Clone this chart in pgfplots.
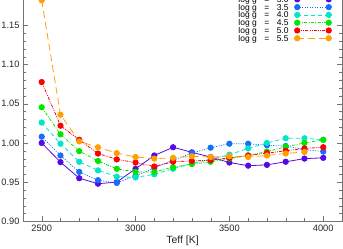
\documentclass[border=0pt]{standalone}
\usepackage{fontspec}
\setmainfont{Liberation Sans}
\usepackage{pgfplots}
\pgfplotsset{compat=1.18}
\definecolor{cA}{RGB}{85,10,225}
\definecolor{cB}{RGB}{20,110,255}
\definecolor{cC}{RGB}{0,230,200}
\definecolor{cD}{RGB}{0,230,0}
\definecolor{cE}{RGB}{255,0,0}
\definecolor{cF}{RGB}{255,160,0}
\newcommand{\logg}[1]{log g\hspace{7.5pt}=\hspace{7.5pt}#1}
\begin{document}
\begin{tikzpicture}
\begin{axis}[
  scale only axis, width=320pt, height=235.8pt,
  xmin=2400, xmax=4100, ymin=0.90, ymax=1.20,
  xtick={2500,3000,3500,4000}, minor x tick num=4,
  ytick={0.90,0.95,1.00,1.05,1.10,1.15}, minor y tick num=4,
  /pgf/number format/assume math mode=true,
  xticklabel style={/pgf/number format/1000 sep={}},
  yticklabel style={/pgf/number format/.cd, fixed, fixed zerofill, precision=2},
  tick label style={font=\fontsize{9.3}{10}\selectfont, black!85},
  axis line style={black!55}, tick style={black!55},
  major tick length=5pt, minor tick length=3pt,
  xlabel={Teff [K]}, xlabel style={font=\fontsize{10.5}{12}\selectfont, black!85, yshift=2pt},
  every axis plot/.append style={line width=0.8pt, mark=*, mark size=2.7pt, mark options={solid}},
  legend plot pos=right, legend cell align=right,
  legend image code/.code={\draw[mark repeat=1,mark phase=1] plot coordinates {(0pt,0pt) (31.6pt,0pt)};},
  legend style={draw=none, fill=none, at={(1,1)}, anchor=north east, xshift=-10.4pt, yshift=-10pt,
    font=\fontsize{8.5}{8.5}\selectfont, inner sep=0pt, row sep=1.8pt,
    nodes={inner sep=0pt, text height=6pt, text depth=0pt}, column sep=6pt},
]
\addplot[color=cA] coordinates {
(2500,1.000)(2600,0.9755)(2700,0.955)(2800,0.948)(2900,0.950)(3000,0.967)(3100,0.984)(3200,0.9945)
(3300,0.988)(3400,0.982)(3500,0.975)(3600,0.971)(3700,0.972)(3800,0.976)(3900,0.980)(4000,0.981)};
\addlegendentry{\logg{3.0}}
\addplot[color=cB, dash pattern=on 1pt off 1.5pt] coordinates {
(2500,1.008)(2600,0.984)(2700,0.963)(2800,0.9525)(2900,0.949)(3000,0.958)(3100,0.968)(3200,0.978)
(3300,0.987)(3400,0.994)(3500,0.999)(3600,0.999)(3700,0.997)(3800,0.996)(3900,0.9915)(4000,0.989)};
\addlegendentry{\logg{3.5}}
\addplot[color=cC, dash pattern=on 4pt off 3pt] coordinates {
(2500,1.026)(2600,0.999)(2700,0.976)(2800,0.965)(2900,0.957)(3000,0.956)(3100,0.960)(3200,0.967)
(3300,0.974)(3400,0.979)(3500,0.985)(3600,0.993)(3700,1.000)(3800,1.006)(3900,1.006)(4000,1.004)};
\addlegendentry{\logg{4.0}}
\addplot[color=cD, dash pattern=on 3pt off 1.5pt on 0.8pt off 1.5pt] coordinates {
(2500,1.0455)(2600,1.011)(2700,0.9895)(2800,0.977)(2900,0.967)(3000,0.963)(3100,0.963)(3200,0.969)
(3300,0.973)(3400,0.976)(3500,0.980)(3600,0.984)(3700,0.989)(3800,0.995)(3900,1.000)(4000,1.004)};
\addlegendentry{\logg{4.5}}
\addplot[color=cE, dash pattern=on 3pt off 1.2pt on 0.8pt off 1.2pt on 0.8pt off 1.2pt] coordinates {
(2500,1.0777)(2600,1.022)(2700,1.004)(2800,0.9865)(2900,0.979)(3000,0.975)(3100,0.970)(3200,0.976)
(3300,0.977)(3400,0.978)(3500,0.981)(3600,0.984)(3700,0.987)(3800,0.990)(3900,0.993)(4000,0.9945)};
\addlegendentry{\logg{5.0}}
\addplot[color=cF, dash pattern=on 7pt off 4pt] coordinates {
(2500,1.182)(2600,1.036)(2700,1.002)(2800,0.9945)(2900,0.987)(3000,0.982)(3100,0.980)(3200,0.981)
(3300,0.983)(3400,0.982)(3500,0.983)(3600,0.982)(3700,0.984)(3800,0.9865)(3900,0.9885)};
\addlegendentry{\logg{5.5}}
\coordinate (bl) at (axis cs:2400,0.90);
\coordinate (tr) at (axis cs:4100,1.1824);
\end{axis}
\pgfresetboundingbox
\path[use as bounding box] ([xshift=-23pt,yshift=-27pt]bl) rectangle ([xshift=1pt]tr);
\end{tikzpicture}
\end{document}
